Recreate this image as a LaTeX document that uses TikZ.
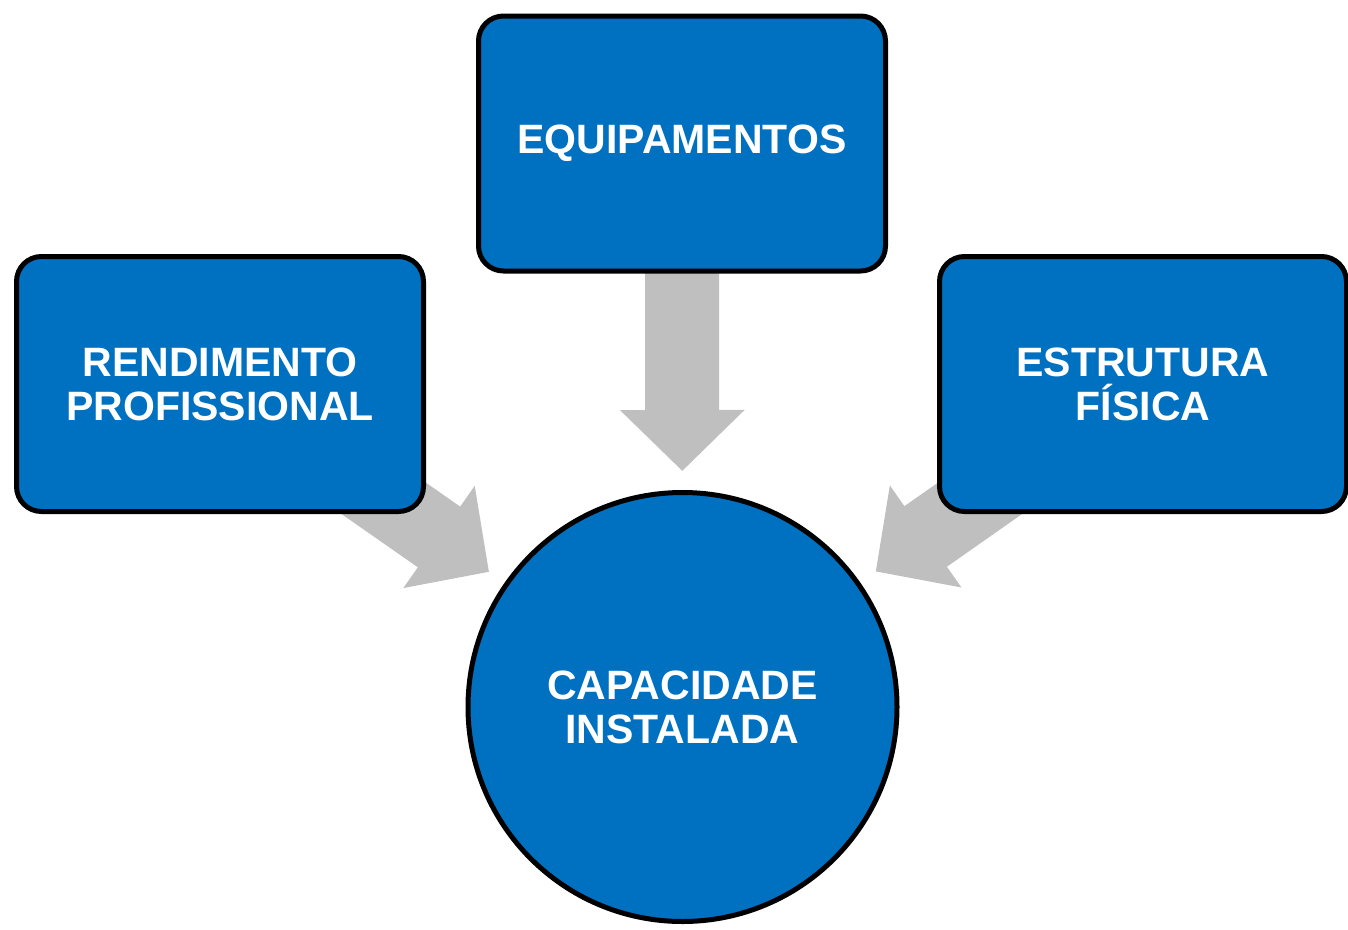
\documentclass[tikz,border=0pt]{standalone}
\usepackage{fontspec}
\setmainfont{Liberation Sans}
\usepackage{tikz}
\usetikzlibrary{arrows.meta,backgrounds}

\definecolor{boxblue}{HTML}{0070C0}
\definecolor{arrowgray}{HTML}{BFBFBF}

\begin{document}
\begin{tikzpicture}[x=1pt,y=-1pt,line width=5pt,
  font=\fontsize{41}{44}\selectfont\bfseries]
  \tikzstyle{box}=[rectangle,rounded corners=25pt,fill=boxblue,draw=black,
    text=white,align=center,minimum width=407pt,minimum height=255pt]
  \tikzstyle{hub}=[circle,fill=boxblue,draw=black,text=white,align=center,
    minimum size=429pt,inner sep=0pt]
  \tikzstyle{feed}=[draw=arrowgray,line width=74pt,
    -{Triangle[length=61pt,width=121pt]},shorten >=19pt]

  \useasboundingbox (0,0) rectangle (1348,929);

  \node[hub] (cap)   at (682.5,707) {CAPACIDADE\\INSTALADA};
  \node[box] (equip) at (682,143.5) {EQUIPAMENTOS};
  \node[box] (rend)  at (220,384)   {RENDIMENTO\\PROFISSIONAL};
  \node[box] (estr)  at (1143,384)  {ESTRUTURA\\FÍSICA};

  \begin{scope}[on background layer]
    \draw[feed] (equip.center) -- (cap);
    \draw[feed] (rend.center)  -- (cap);
    \draw[feed] (estr.center)  -- (cap);
  \end{scope}
\end{tikzpicture}
\end{document}
